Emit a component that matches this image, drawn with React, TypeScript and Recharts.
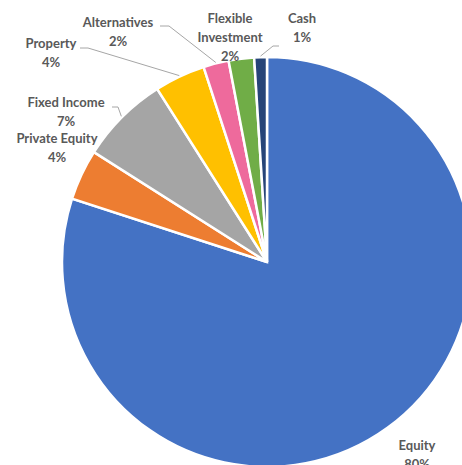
import React from "react";
import { PieChart, Pie, Cell } from "recharts";

const CATEGORIES = [
  "Equity",
  "Private Equity",
  "Fixed Income",
  "Property",
  "Alternatives",
  "Flexible Investment",
  "Cash",
];
const VALUES = [80, 4, 7, 4, 2, 2, 1];
const COLORS = ["#4472C4", "#ED7D31", "#A5A5A5", "#FFC000", "#EE6A9C", "#70AD47", "#264478"];

// label placement (Excel-style outside labels), first line centre + optional leader elbow
const LABELS: Record<string, { x: number; y: number; lines: string[]; elbow?: [number, number, number] }> = {
  Equity: { x: 417, y: 445, lines: ["Equity"] },
  "Private Equity": { x: 57, y: 138, lines: ["Private Equity"] },
  "Fixed Income": { x: 66, y: 102, lines: ["Fixed Income"], elbow: [118, 107, 112] },
  Property: { x: 51, y: 43, lines: ["Property"], elbow: [88, 48, 80] },
  Alternatives: { x: 118, y: 22, lines: ["Alternatives"], elbow: [169, 26, 160] },
  "Flexible Investment": { x: 230, y: 18, lines: ["Flexible", "Investment"] },
  Cash: { x: 302, y: 18, lines: ["Cash"], elbow: [273, 46, 279] },
};

const data = CATEGORIES.map((name, i) => ({ name, value: VALUES[i] }));
const RAD = Math.PI / 180;
const LINE_H = 19;

const renderLabel = (props: any) => {
  const { cx, cy, midAngle, outerRadius, name, percent } = props;
  const cfg = LABELS[name];
  if (!cfg) return null;
  const lines = [...cfg.lines, `${Math.round(percent * 100)}%`];
  let leader = null;
  if (cfg.elbow) {
    const sx = cx + (outerRadius + 1) * Math.cos(-midAngle * RAD);
    const sy = cy + (outerRadius + 1) * Math.sin(-midAngle * RAD);
    const [ex, ey, hx] = cfg.elbow;
    leader = (
      <polyline
        points={`${sx},${sy} ${ex},${ey} ${hx},${ey}`}
        fill="none"
        stroke="#A6A6A6"
        strokeWidth={1}
      />
    );
  }
  return (
    <g>
      {leader}
      {lines.map((t, i) => (
        <text
          key={i}
          x={cfg.x}
          y={cfg.y + i * LINE_H}
          textAnchor="middle"
          dominantBaseline="central"
          fill="#595959"
          fontSize={13}
          fontWeight="bold"
          fontFamily="Lato, 'Liberation Sans', sans-serif"
        >
          {t}
        </text>
      ))}
    </g>
  );
};

export default function App() {
  return (
    <div style={{ position: "absolute", left: 0, top: 0, width: 462, height: 465, overflow: "hidden", background: "#fff" }}>
      <PieChart width={462} height={465} margin={{ top: 0, right: 0, bottom: 0, left: 0 }}>
        <Pie
          data={data}
          dataKey="value"
          nameKey="name"
          cx={267}
          cy={262}
          outerRadius={205}
          startAngle={90}
          endAngle={-270}
          stroke="#fff"
          strokeWidth={2.5}
          label={renderLabel}
          labelLine={false}
          isAnimationActive={false}
        >
          {data.map((d, i) => (
            <Cell key={d.name} fill={COLORS[i]} />
          ))}
        </Pie>
      </PieChart>
    </div>
  );
}
